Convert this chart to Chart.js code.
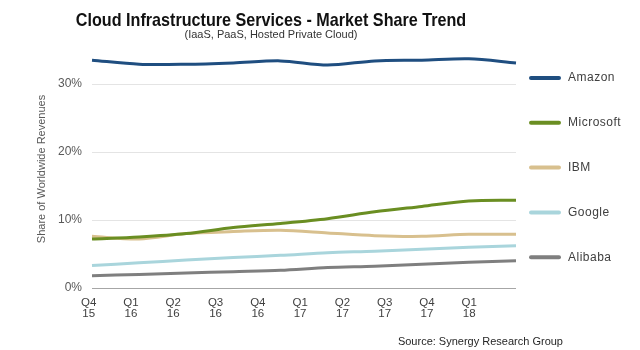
<!DOCTYPE html>
<html>
<head>
<meta charset="utf-8">
<script src="https://cdn.jsdelivr.net/npm/chart.js@4"></script>
<style>
  body { margin: 0; background: #fff; font-family: "Liberation Sans", Arial, sans-serif; }
  #wrap { position: relative; width: 640px; height: 350px; }
  #wrap canvas { position: absolute; left: 0; top: 0; }
  .title { position: absolute; left: 0; width: 542px; top: 9px; text-align: center; font-weight: bold; font-size: 19px; color: #111; transform: scaleX(0.85); white-space: nowrap; }
  .subtitle { position: absolute; left: 0; width: 542px; top: 28px; text-align: center; font-size: 11px; color: #333; white-space: nowrap; }
  .source { position: absolute; right: 77px; top: 335px; font-size: 11px; color: #262626; white-space: nowrap; }
</style>
</head>
<body>
<div id="wrap">
  <canvas id="marketShare" width="640" height="350"></canvas>
  <div class="title">Cloud Infrastructure Services - Market Share Trend</div>
  <div class="subtitle">(IaaS, PaaS, Hosted Private Cloud)</div>
  <div class="source">Source: Synergy Research Group</div>
</div>
<script>
// --- datos ---
const quarters = ['Q4', 'Q1', 'Q2', 'Q3', 'Q4', 'Q1', 'Q2', 'Q3', 'Q4', 'Q1'];
const years = ['15', '16', '16', '16', '16', '17', '17', '17', '17', '18'];
const amazon = [33.5, 32.9, 32.9, 33.1, 33.4, 32.8, 33.4, 33.5, 33.7, 33.1];
const microsoft = [7.2, 7.5, 8.0, 8.9, 9.5, 10.2, 11.2, 12.0, 12.8, 12.9];
const ibm = [7.6, 7.2, 8.0, 8.3, 8.5, 8.1, 7.7, 7.6, 7.9, 7.9];
const google = [3.3, 3.7, 4.1, 4.5, 4.8, 5.2, 5.4, 5.7, 6.0, 6.2];
const alibaba = [1.8, 2.0, 2.2, 2.4, 2.6, 3.0, 3.2, 3.5, 3.8, 4.0];
const yTicks = [0, 10, 20, 30];

// leyenda a la derecha, una linea corta por serie
const sideLegend = {
    id: 'sideLegend',
    afterDraw(chart) {
        const ctx = chart.ctx;
        chart.data.datasets.forEach((ds, i) => {
            const y = 78 + i * 44.8;
            ctx.save();
            ctx.strokeStyle = ds.borderColor;
            ctx.lineWidth = 4;
            ctx.lineCap = 'round';
            ctx.beginPath();
            ctx.moveTo(531, y);
            ctx.lineTo(559, y);
            ctx.stroke();
            ctx.fillStyle = '#404040';
            ctx.font = '12px "Liberation Sans", Arial, sans-serif';
            ctx.letterSpacing = '0.5px';
            ctx.textBaseline = 'middle';
            ctx.fillText(ds.label, 568, y);
            ctx.restore();
        });
    }
};

const line = (label, data, color) => ({
    label: label,
    data: data,
    borderColor: color,
    backgroundColor: color,
    borderWidth: 3,
    pointRadius: 0,
    tension: 0.3,
    fill: false
});

new Chart(document.getElementById('marketShare'), {
    type: 'line',
    data: {
        labels: quarters.map((q, i) => q + ' ' + years[i]),
        datasets: [
            line('Amazon', amazon, '#1f4e80'),
            line('Microsoft', microsoft, '#6a8e22'),
            line('IBM', ibm, '#d8c08e'),
            line('Google', google, '#a9d5dc'),
            line('Alibaba', alibaba, '#7f7f7f')
        ]
    },
    options: {
        responsive: false,
        animation: false,
        layout: { padding: { top: 50, right: 124, left: 30, bottom: 0 } },
        plugins: { legend: { display: false }, tooltip: { enabled: false } },
        scales: {
            x: { display: false },
            // eje solo para las etiquetas (van algo mas juntas que los puntos en el original)
            xl: {
                type: 'linear',
                position: 'bottom',
                min: 0.078,
                max: 10.106,
                afterBuildTicks: s => { s.ticks = quarters.map((q, i) => ({ value: i })); },
                afterFit: s => { s.height = 62; },
                grid: { display: false },
                border: { display: false },
                ticks: {
                    autoSkip: false,
                    maxRotation: 0,
                    padding: 1,
                    color: '#404040',
                    font: { size: 11.5, lineHeight: 1.0 },
                    callback: v => [quarters[v], years[v]]
                }
            },
            y: {
                min: 0,
                max: 35,
                afterBuildTicks: s => { s.ticks = yTicks.map(v => ({ value: v })); },
                afterFit: s => { s.width = 62; },
                border: { display: false },
                grid: {
                    drawTicks: false,
                    color: c => c.tick && c.tick.value === 0 ? '#a6a6a6' : '#e4e4e4'
                },
                ticks: {
                    padding: 10,
                    color: '#595959',
                    font: { size: 12 },
                    callback: v => v + '%'
                },
                title: {
                    display: true,
                    text: 'Share of Worldwide Revenues',
                    color: '#595959',
                    font: { size: 11 },
                    padding: { top: 5, bottom: 0 }
                }
            }
        }
    },
    plugins: [sideLegend]
});
</script>
</body>
</html>
